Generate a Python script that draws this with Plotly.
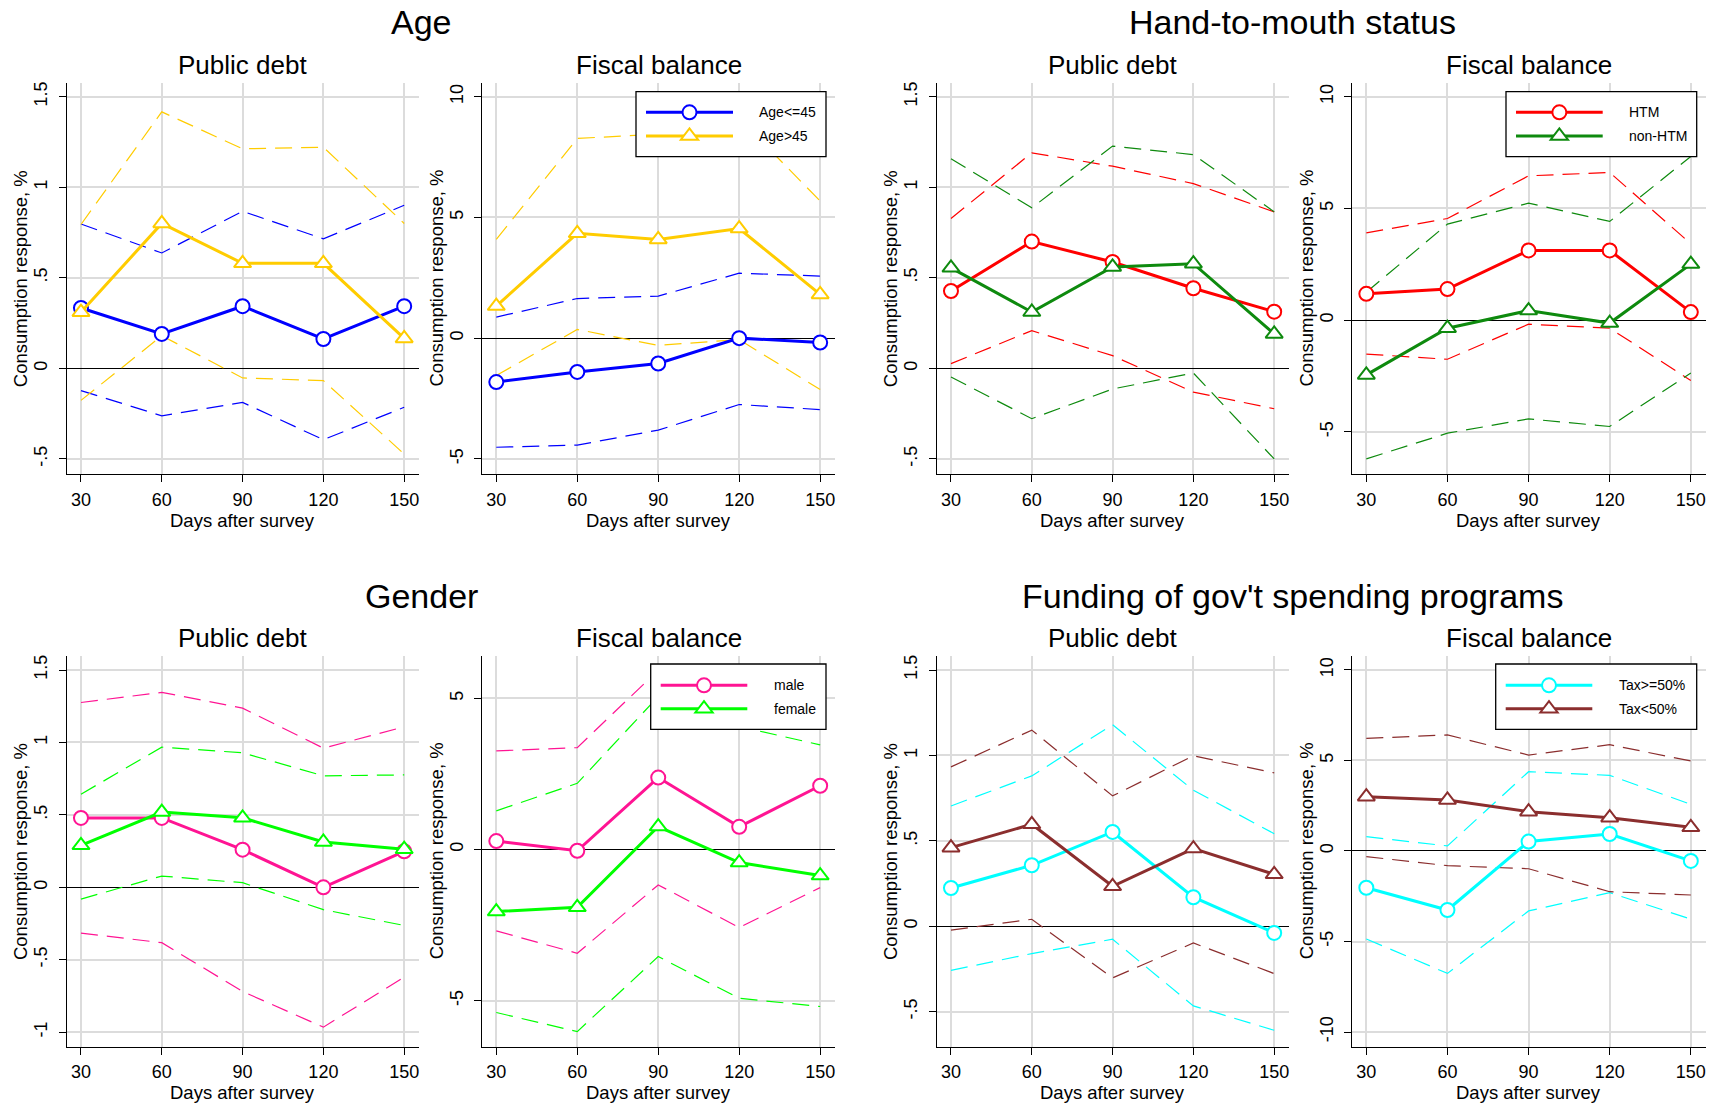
import plotly.graph_objects as go

W, H = 1717, 1103
FONT = "Liberation Sans, Arial, Helvetica, sans-serif"

# ---------------- data ----------------
days = [30, 60, 90, 120, 150]

# Age - public debt
age_pd_young = [0.333, 0.19, 0.343, 0.162, 0.343]
age_pd_young_lo = [-0.123, -0.262, -0.188, -0.394, -0.215]
age_pd_young_hi = [0.797, 0.637, 0.867, 0.715, 0.90]
age_pd_old = [0.31, 0.80, 0.58, 0.58, 0.165]
age_pd_old_lo = [-0.177, 0.18, -0.053, -0.068, -0.473]
age_pd_old_hi = [0.794, 1.416, 1.212, 1.221, 0.80]
# Age - fiscal balance
age_fb_young = [-1.82, -1.40, -1.05, 0.0, -0.18]
age_fb_young_lo = [-4.52, -4.43, -3.81, -2.75, -2.96]
age_fb_young_hi = [0.87, 1.64, 1.74, 2.69, 2.57]
age_fb_old = [1.33, 4.34, 4.09, 4.54, 1.81]
age_fb_old_lo = [-1.55, 0.36, -0.30, -0.06, -2.13]
age_fb_old_hi = [4.09, 8.27, 8.45, 9.1, 5.68]

# Hand-to-mouth - public debt
htm_pd = [0.427, 0.70, 0.587, 0.442, 0.313]
htm_pd_lo = [0.026, 0.208, 0.07, -0.131, -0.223]
htm_pd_hi = [0.827, 1.19, 1.116, 1.02, 0.864]
nonhtm_pd = [0.555, 0.311, 0.56, 0.578, 0.19]
nonhtm_pd_lo = [-0.048, -0.278, -0.114, -0.026, -0.50]
nonhtm_pd_hi = [1.157, 0.886, 1.227, 1.18, 0.864]
# Hand-to-mouth - fiscal balance
htm_fb = [1.18, 1.39, 3.12, 3.12, 0.36]
htm_fb_lo = [-1.52, -1.75, -0.18, -0.36, -2.70]
htm_fb_hi = [3.91, 4.55, 6.46, 6.61, 3.42]
nonhtm_fb = [-2.45, -0.36, 0.43, -0.13, 2.51]
nonhtm_fb_lo = [-6.21, -5.06, -4.42, -4.76, -2.37]
nonhtm_fb_hi = [1.25, 4.30, 5.24, 4.42, 7.33]

# Gender - public debt
male_pd = [0.479, 0.479, 0.26, 0.0, 0.249]
male_pd_lo = [-0.316, -0.382, -0.719, -0.965, -0.62]
male_pd_hi = [1.276, 1.346, 1.237, 0.961, 1.108]
female_pd = [0.29, 0.52, 0.48, 0.313, 0.263]
female_pd_lo = [-0.081, 0.078, 0.032, -0.154, -0.263]
female_pd_hi = [0.643, 0.968, 0.929, 0.77, 0.776]
# Gender - fiscal balance
male_fb = [0.28, -0.04, 2.38, 0.75, 2.11]
male_fb_lo = [-2.69, -3.43, -1.17, -2.58, -1.26]
male_fb_hi = [3.26, 3.37, 5.93, 4.10, 5.47]
female_fb = [-2.05, -1.91, 0.76, -0.43, -0.86]
female_fb_lo = [-5.39, -6.02, -3.54, -4.92, -5.19]
female_fb_hi = [1.28, 2.19, 5.06, 4.07, 3.46]

# Funding - public debt
taxhi_pd = [0.224, 0.357, 0.552, 0.17, -0.039]
taxhi_pd_lo = [-0.258, -0.16, -0.076, -0.466, -0.609]
taxhi_pd_hi = [0.704, 0.88, 1.18, 0.796, 0.542]
taxlo_pd = [0.46, 0.597, 0.234, 0.455, 0.304]
taxlo_pd_lo = [-0.023, 0.041, -0.302, -0.098, -0.277]
taxlo_pd_hi = [0.933, 1.148, 0.763, 0.998, 0.898]
# Funding - fiscal balance
taxhi_fb = [-2.03, -3.26, 0.52, 0.94, -0.55]
taxhi_fb_lo = [-4.86, -6.76, -3.31, -2.30, -3.76]
taxhi_fb_hi = [0.79, 0.28, 4.38, 4.18, 2.58]
taxlo_fb = [3.0, 2.82, 2.17, 1.84, 1.31]
taxlo_fb_lo = [-0.31, -0.81, -0.98, -2.25, -2.43]
taxlo_fb_hi = [6.22, 6.41, 5.30, 5.87, 4.97]

group_titles = ["Age", "Hand-to-mouth status", "Gender", "Funding of gov't spending programs"]
panel_titles = ["Public debt", "Fiscal balance"]
legend_labels = [["Age&lt;=45", "Age&gt;45"], ["HTM", "non-HTM"],
                 ["male", "female"], ["Tax&gt;=50%", "Tax&lt;50%"]]
x_title = "Days after survey"
y_title = "Consumption response, %"

# ---------------- styles ----------------
BLUE, GOLD = "#0000ff", "#ffcc00"
RED, DGREEN = "#ff0000", "#0e8a0e"
PINK, LIME = "#ff1493", "#00ff00"
CYAN, MAROON = "#00ffff", "#8b2e2e"

def fx(px):
    return px / W

def fy(py):
    return 1 - py / H

cols = [(66.7, 419.0), (482.0, 835.0), (936.7, 1289.0), (1352.0, 1705.7)]
rows = [(82.7, 474.3), (656.0, 1046.7)]

pd_ticks = ([-0.5, 0, 0.5, 1, 1.5], ["-.5", "0", ".5", "1", "1.5"])
panels = [
    dict(r=0, c=0, yr=[-0.585, 1.577], tk=pd_ticks,
         s=[(age_pd_young, age_pd_young_lo, age_pd_young_hi, BLUE, "circle"),
            (age_pd_old, age_pd_old_lo, age_pd_old_hi, GOLD, "triangle-up")]),
    dict(r=0, c=1, yr=[-5.64, 10.58], tk=([-5, 0, 5, 10], ["-5", "0", "5", "10"]),
         s=[(age_fb_young, age_fb_young_lo, age_fb_young_hi, BLUE, "circle"),
            (age_fb_old, age_fb_old_lo, age_fb_old_hi, GOLD, "triangle-up")]),
    dict(r=0, c=2, yr=[-0.585, 1.577], tk=pd_ticks,
         s=[(htm_pd, htm_pd_lo, htm_pd_hi, RED, "circle"),
            (nonhtm_pd, nonhtm_pd_lo, nonhtm_pd_hi, DGREEN, "triangle-up")]),
    dict(r=0, c=3, yr=[-6.9, 10.63], tk=([-5, 0, 5, 10], ["-5", "0", "5", "10"]),
         s=[(htm_fb, htm_fb_lo, htm_fb_hi, RED, "circle"),
            (nonhtm_fb, nonhtm_fb_lo, nonhtm_fb_hi, DGREEN, "triangle-up")]),
    dict(r=1, c=0, yr=[-1.10, 1.597],
         tk=([-1, -0.5, 0, 0.5, 1, 1.5], ["-1", "-.5", "0", ".5", "1", "1.5"]),
         s=[(male_pd, male_pd_lo, male_pd_hi, PINK, "circle"),
            (female_pd, female_pd_lo, female_pd_hi, LIME, "triangle-up")]),
    dict(r=1, c=1, yr=[-6.52, 6.40], tk=([-5, 0, 5], ["-5", "0", "5"]),
         s=[(male_fb, male_fb_lo, male_fb_hi, PINK, "circle"),
            (female_fb, female_fb_lo, female_fb_hi, LIME, "triangle-up")]),
    dict(r=1, c=2, yr=[-0.705, 1.582], tk=pd_ticks,
         s=[(taxhi_pd, taxhi_pd_lo, taxhi_pd_hi, CYAN, "circle"),
            (taxlo_pd, taxlo_pd_lo, taxlo_pd_hi, MAROON, "triangle-up")]),
    dict(r=1, c=3, yr=[-10.81, 10.77],
         tk=([-10, -5, 0, 5, 10], ["-10", "-5", "0", "5", "10"]),
         s=[(taxhi_fb, taxhi_fb_lo, taxhi_fb_hi, CYAN, "circle"),
            (taxlo_fb, taxlo_fb_lo, taxlo_fb_hi, MAROON, "triangle-up")]),
]

fig = go.Figure()
layout = dict(width=W, height=H, autosize=False,
              margin=dict(l=0, r=0, t=0, b=0),
              paper_bgcolor="white", plot_bgcolor="white",
              showlegend=False, font=dict(family=FONT, color="black"))
annotations = []
shapes = []

axis_common = dict(ticks="outside", ticklen=7, tickwidth=1.3, tickcolor="black",
                   showline=True, linecolor="black", linewidth=1.3,
                   showgrid=True, gridcolor="#dcdcdc", gridwidth=2,
                   tickfont=dict(size=18, family=FONT, color="black"))

for i, p in enumerate(panels, start=1):
    xa = "x" if i == 1 else f"x{i}"
    ya = "y" if i == 1 else f"y{i}"
    xl = "xaxis" if i == 1 else f"xaxis{i}"
    yl = "yaxis" if i == 1 else f"yaxis{i}"
    x0, x1 = cols[p["c"]]
    y0, y1 = rows[p["r"]]
    layout[xl] = dict(axis_common, domain=[fx(x0), fx(x1)], anchor=ya,
                      range=[24.7, 155.5], tickvals=days,
                      ticktext=[str(d) for d in days], zeroline=False,
                      ticklabelstandoff=2)
    layout[yl] = dict(axis_common, domain=[fy(y1), fy(y0)], anchor=xa,
                      range=p["yr"], tickvals=p["tk"][0], ticktext=p["tk"][1],
                      tickangle=-90, zeroline=True, zerolinecolor="black",
                      zerolinewidth=1.3, ticklabelstandoff=4)
    # confidence bands
    for (mid, lo, hi, col, sym) in p["s"]:
        for band in (lo, hi):
            fig.add_trace(go.Scatter(x=days, y=band, mode="lines", xaxis=xa, yaxis=ya,
                                     line=dict(color=col, width=1.2, dash="17px,9px"),
                                     hoverinfo="skip"))
    # point estimates
    for (mid, lo, hi, col, sym) in p["s"]:
        fig.add_trace(go.Scatter(x=days, y=mid, mode="lines+markers", xaxis=xa, yaxis=ya,
                                 line=dict(color=col, width=3),
                                 marker=dict(symbol=sym, size=14 if sym == "circle" else 15,
                                             color="white",
                                             line=dict(color=col, width=2))))
    # subplot title
    annotations.append(dict(text=panel_titles[(i - 1) % 2], x=fx((x0 + x1) / 2),
                            y=fy(65 if p["r"] == 0 else 638), xref="paper", yref="paper",
                            showarrow=False, xanchor="center", yanchor="middle",
                            font=dict(size=26, family=FONT, color="black")))
    # axis titles
    annotations.append(dict(text=x_title, x=fx((x0 + x1) / 2), y=fy(y1 + 46),
                            xref="paper", yref="paper", showarrow=False,
                            xanchor="center", yanchor="middle",
                            font=dict(size=18.5, family=FONT, color="black")))
    annotations.append(dict(text=y_title, x=fx(x0 - 46), y=fy((y0 + y1) / 2),
                            xref="paper", yref="paper", showarrow=False, textangle=-90,
                            xanchor="center", yanchor="middle",
                            font=dict(size=18.5, family=FONT, color="black")))

# group titles
for t, (cx, cy) in zip(group_titles, [(421.6, 22), (1292, 22), (421.6, 596), (1292, 596)]):
    annotations.append(dict(text=t, x=fx(cx), y=fy(cy), xref="paper", yref="paper",
                            showarrow=False, xanchor="center", yanchor="middle",
                            font=dict(size=34, family=FONT, color="black")))

# legends (boxes drawn in pixel positions of the reference)
legend_boxes = [
    dict(box=(636, 91.7, 826, 156.7), line=(646, 733), text=757, rows=(112.3, 136), p=1),
    dict(box=(1506, 91.7, 1696.7, 156.7), line=(1516, 1602.7), text=1627, rows=(112.3, 136), p=3),
    dict(box=(650.7, 664, 826, 729.3), line=(660.7, 747.3), text=772.3, rows=(685.3, 708.7), p=5),
    dict(box=(1495.7, 664, 1696.7, 729.3), line=(1505.7, 1592.3), text=1617.3, rows=(685.3, 708.7), p=7),
]
for k, lg in enumerate(legend_boxes):
    bx0, by0, bx1, by1 = lg["box"]
    shapes.append(dict(type="rect", xref="paper", yref="paper", x0=fx(bx0), x1=fx(bx1),
                       y0=fy(by1), y1=fy(by0), fillcolor="white",
                       line=dict(color="black", width=1.3), layer="above"))
    for j, (mid, lo, hi, col, sym) in enumerate(panels[lg["p"]]["s"]):
        ry = lg["rows"][j]
        lx0, lx1 = lg["line"]
        shapes.append(dict(type="line", xref="paper", yref="paper", x0=fx(lx0), x1=fx(lx1),
                           y0=fy(ry), y1=fy(ry), line=dict(color=col, width=3), layer="above"))
        cxm = (lx0 + lx1) / 2
        if sym == "circle":
            shapes.append(dict(type="circle", xref="paper", yref="paper",
                               xsizemode="pixel", ysizemode="pixel",
                               xanchor=fx(cxm), yanchor=fy(ry), x0=-7, x1=7, y0=-7, y1=7,
                               fillcolor="white", line=dict(color=col, width=2), layer="above"))
        else:
            shapes.append(dict(type="path", xref="paper", yref="paper",
                               xsizemode="pixel", ysizemode="pixel",
                               xanchor=fx(cxm), yanchor=fy(ry),
                               path="M -8.66,-3.75 L 8.66,-3.75 L 0,7.5 Z",
                               fillcolor="white", line=dict(color=col, width=2), layer="above"))
        annotations.append(dict(text=legend_labels[k][j], x=fx(lg["text"]), y=fy(ry),
                                xref="paper", yref="paper", showarrow=False,
                                xanchor="left", yanchor="middle",
                                font=dict(size=14, family=FONT, color="black")))

layout["annotations"] = annotations
layout["shapes"] = shapes
fig.update_layout(**layout)
fig.write_html("out.html")
